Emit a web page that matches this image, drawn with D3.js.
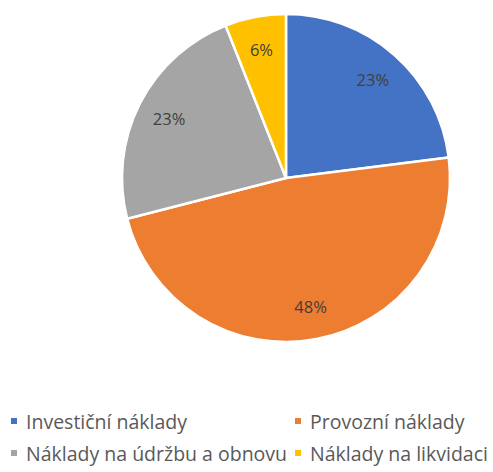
<!DOCTYPE html>
<html>
<head>
<meta charset="utf-8">
<script src="https://cdn.jsdelivr.net/npm/d3@7"></script>
<style>
  html, body { margin: 0; padding: 0; background: #fff; }
  svg { display: block; }
</style>
</head>
<body>
<svg id="chart" width="493" height="472"></svg>
<script>
// Cost structure shares (percent)
const categories = ["Investiční náklady", "Provozní náklady", "Náklady na údržbu a obnovu", "Náklady na likvidaci"];
const values = [23, 48, 23, 6];
const colors = ["#4472C4", "#ED7D31", "#A5A5A5", "#FFC000"];

const svg = d3.select("#chart");
const cx = 286, cy = 178, radius = 164;
const font = "'Open Sans', Lato, sans-serif";

const data = categories.map((c, i) => ({ name: c, value: values[i], color: colors[i] }));

const pie = d3.pie().value(d => d.value).sort(null);
const arcs = pie(data);

const arc = d3.arc().innerRadius(0).outerRadius(radius);
const labelArc = d3.arc().innerRadius(radius * 0.8).outerRadius(radius * 0.8);

const g = svg.append("g").attr("transform", `translate(${cx},${cy})`);

g.selectAll("path.slice")
  .data(arcs)
  .join("path")
  .attr("class", "slice")
  .attr("d", arc)
  .attr("fill", d => d.data.color)
  .attr("stroke", "#fff")
  .attr("stroke-width", 2.5)
  .attr("stroke-linejoin", "round");

g.selectAll("text.lbl")
  .data(arcs)
  .join("text")
  .attr("class", "lbl")
  .attr("transform", d => `translate(${labelArc.centroid(d)})`)
  .attr("text-anchor", "middle")
  .attr("dominant-baseline", "central")
  .attr("font-family", font)
  .attr("font-size", 16.5)
  .attr("fill", "#404040")
  .text(d => d3.format(".0f")(d.data.value) + "%");

// Legend: two rows, two columns
const legendX = [14, 298];
const legendY = [421, 453];
const legend = svg.append("g");
data.forEach((d, i) => {
  const x = legendX[i % 2], y = legendY[Math.floor(i / 2)];
  legend.append("rect")
    .attr("x", x - 3).attr("y", y - 3)
    .attr("width", 6).attr("height", 6)
    .attr("fill", d.color);
  legend.append("text")
    .attr("x", x + 12).attr("y", y)
    .attr("dominant-baseline", "central")
    .attr("font-family", font)
    .attr("font-size", 19.5)
    .attr("fill", "#595959")
    .text(d.name);
});
</script>
</body>
</html>
